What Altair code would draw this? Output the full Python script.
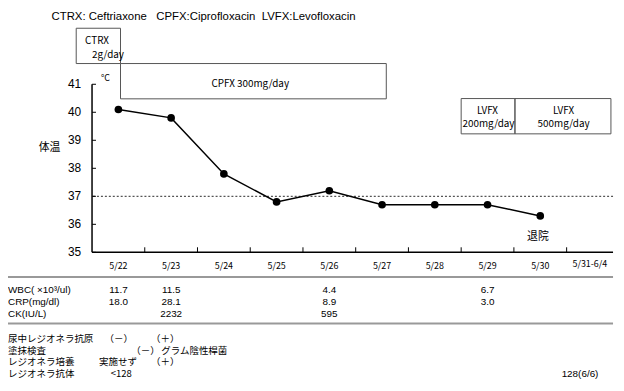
import altair as alt
import pandas as pd

# ---------------- data ----------------
days = ["5/22", "5/23", "5/24", "5/25", "5/26", "5/27", "5/28", "5/29", "5/30"]
temps = [40.1, 39.8, 37.8, 36.8, 37.2, 36.7, 36.7, 36.7, 36.3]
last_period = "5/31-6/4"

wbc_days = ["5/22", "5/23", "5/26", "5/29"]
wbc_vals = ["11.7", "11.5", "4.4", "6.7"]
crp_days = ["5/22", "5/23", "5/26", "5/29"]
crp_vals = ["18.0", "28.1", "8.9", "3.0"]
ck_days = ["5/23", "5/26"]
ck_vals = ["2232", "595"]

drug_names = ["CTRX", "CPFX", "LVFX", "LVFX"]
drug_doses = ["2g/day", "300mg/day", "200mg/day", "500mg/day"]
# treatment spans on the day axis (0 = start of 5/22)
drug_start = [-0.3, 0.54, 7.0, 8.02]
drug_end = [0.54, 5.58, 8.02, 9.84]
drug_top = [43.0, 41.74, 40.49, 40.49]
drug_bottom = [41.74, 40.48, 39.23, 39.23]

y_ticks = [35, 36, 37, 38, 39, 40, 41]
x_ticks = [1, 2, 3, 4, 5, 6, 7, 8, 9]
fever_line = 37

title_text = "CTRX: Ceftriaxone\u00a0\u00a0\u00a0CPFX:Ciprofloxacin\u00a0\u00a0LVFX:Levofloxacin"
lab_labels = ["WBC(\u00a0×10³/ul)", "CRP(mg/dl)", "CK(IU/L)"]
micro_labels = ["尿中レジオネラ抗原", "塗抹検査", "レジオネラ培養", "レジオネラ抗体"]

# ---------------- layout ----------------
W, H = 527, 170
PAD_L, PAD_T = 85, 75
X_MAX = 9.88
XS = alt.Scale(domain=[0, X_MAX], nice=False, zero=False)
YS = alt.Scale(domain=[35, 41], nice=False, zero=False)
JP = "Noto Sans CJK JP"
LAT = "Liberation Sans"


def px_text(df, align="left", font=LAT, size=10, **kw):
    return alt.Chart(df).mark_text(align=align, baseline="middle", font=font, fontSize=size,
                                   color="black", **kw).encode(
        x=alt.X("px:Q", scale=None), y=alt.Y("py:Q", scale=None), text="t:N")


day_pos = {d: i + 0.5 for i, d in enumerate(days)}
temp_df = pd.DataFrame({"day": days, "pos": [day_pos[d] for d in days], "temp": temps})

# axes drawn as marks
y_axis = alt.Chart(pd.DataFrame({"x": [0], "y": [35], "y2": [41]})).mark_rule(color="black", strokeWidth=1.5).encode(
    x=alt.X("x:Q", scale=XS, axis=None), y=alt.Y("y:Q", scale=YS, axis=None), y2="y2:Q")
x_axis = alt.Chart(pd.DataFrame({"x": [0], "x2": [X_MAX], "y": [35]})).mark_rule(color="black", strokeWidth=1.5).encode(
    x=alt.X("x:Q", scale=XS, axis=None), x2="x2:Q", y=alt.Y("y:Q", scale=YS, axis=None))
y_labels = alt.Chart(pd.DataFrame({"y": y_ticks, "t": [str(v) for v in y_ticks]})).mark_text(
    align="right", baseline="middle", font=LAT, fontSize=12, color="black", dx=-11).encode(
    x=alt.value(0), y=alt.Y("y:Q", scale=YS, axis=None), text="t:N")

line = alt.Chart(temp_df).mark_line(color="black", strokeWidth=1.5).encode(
    x=alt.X("pos:Q", scale=XS, axis=None), y=alt.Y("temp:Q", scale=YS, axis=None))
points = alt.Chart(temp_df).mark_point(filled=True, color="black", size=60, opacity=1).encode(
    x=alt.X("pos:Q", scale=XS, axis=None), y=alt.Y("temp:Q", scale=YS, axis=None))
fever = alt.Chart(pd.DataFrame({"y": [fever_line]})).mark_rule(
    color="#555", strokeDash=[2, 2], strokeWidth=1.2
).encode(y=alt.Y("y:Q", scale=YS, axis=None))

xt = alt.Chart(pd.DataFrame({"x": x_ticks, "y": 35, "y2": 35.18})).mark_rule(color="black", strokeWidth=1).encode(
    x=alt.X("x:Q", scale=XS, axis=None), y=alt.Y("y:Q", scale=YS, axis=None), y2="y2:Q")
yt = alt.Chart(pd.DataFrame({"y": y_ticks, "x": 0, "x2": 0.075})).mark_rule(color="black", strokeWidth=1).encode(
    x=alt.X("x:Q", scale=XS, axis=None), x2="x2:Q", y=alt.Y("y:Q", scale=YS, axis=None))

boxes_df = pd.DataFrame({"name": drug_names, "dose": drug_doses, "x": drug_start, "x2": drug_end,
                         "y": drug_top, "y2": drug_bottom})
boxes = alt.Chart(boxes_df).mark_rect(fillOpacity=0, stroke="#555", strokeWidth=1).encode(
    x=alt.X("x:Q", scale=XS, axis=None), x2="x2:Q", y=alt.Y("y:Q", scale=YS, axis=None), y2="y2:Q")

# box texts (pixel positions relative to plot origin)
box_l = px_text(pd.DataFrame({"t": ["CTRX", "2g/day"], "px": [-7, 0], "py": [-44, -30]}), font=JP, size=10)
box_c = px_text(pd.DataFrame({
    "t": ["CPFX 300mg/day", "LVFX", "200mg/day", "LVFX", "500mg/day"],
    "px": [160, 400, 401, 477, 477],
    "py": [0, 27, 40, 27, 40]}), align="center", font=JP, size=10)

title = px_text(pd.DataFrame({"t": [title_text], "px": [-41], "py": [-68]}), size=11.5)
unit = px_text(pd.DataFrame({"t": ["°C"], "px": [9], "py": [-6]}), font=JP, size=9)
jp_notes = px_text(pd.DataFrame({"t": ["体温", "退院"], "px": [-43, 451], "py": [64, 155]}),
                   align="center", font=JP, size=11)

# date labels
date_df = pd.DataFrame({"t": days + [last_period], "pos": [day_pos[d] for d in days] + [9.44],
                        "py": [184] * len(days) + [182]})
dates = alt.Chart(date_df).mark_text(align="center", baseline="middle", font=JP, fontSize=9, color="black").encode(
    x=alt.X("pos:Q", scale=XS, axis=None), y=alt.Y("py:Q", scale=None), text="t:N")

# separators
sep = alt.Chart(pd.DataFrame({"y": [195, 242]})).mark_rule(color="#999", strokeWidth=2).encode(
    x=alt.value(-93), x2=alt.value(W), y=alt.Y("y:Q", scale=None))

# lab table
row_y = [208, 220, 232]
lab_rows = []
for r, (ds, vs) in enumerate([(wbc_days, wbc_vals), (crp_days, crp_vals), (ck_days, ck_vals)]):
    for d, v in zip(ds, vs):
        lab_rows.append({"t": v, "pos": day_pos[d], "py": row_y[r]})
lab_vals = alt.Chart(pd.DataFrame(lab_rows)).mark_text(align="center", baseline="middle", font=LAT,
                                                        fontSize=10, color="black").encode(
    x=alt.X("pos:Q", scale=XS, axis=None), y=alt.Y("py:Q", scale=None), text="t:N")
lab_lab = px_text(pd.DataFrame({"t": lab_labels, "px": -85, "py": row_y}), size=10)

# microbiology notes
micro_y = [258, 269.5, 281, 293]
micro_lab = px_text(pd.DataFrame({"t": micro_labels, "px": -85, "py": micro_y}), font=JP, size=9.6)
micro_c = px_text(pd.DataFrame({
    "t": ["（－）", "（＋）", "（－）", "（＋）"],
    "px": [27, 74, 54, 74],
    "py": [258, 258, 269.5, 281]}), align="center", font=JP, size=9.6)
micro_l = px_text(pd.DataFrame({
    "t": ["グラム陰性桿菌", "実施せず", "<128"],
    "px": [70, 7, 19],
    "py": [269.5, 281, 293]}), font=JP, size=9.6)
micro_r = px_text(pd.DataFrame({"t": ["128(6/6)"], "px": [475], "py": [293]}), size=10)

chart = alt.layer(
    boxes, fever, x_axis, y_axis, y_labels, line, points, xt, yt, box_l, box_c, title, unit, jp_notes,
    dates, sep, lab_vals, lab_lab, micro_lab, micro_c, micro_l, micro_r
).properties(
    width=W, height=H,
    autosize=alt.AutoSizeParams(type="none"),
    padding={"left": PAD_L, "top": PAD_T, "right": 3, "bottom": 128},
    background="white",
).configure_view(strokeWidth=0)

chart.save("out.html", embed_options={"renderer": "svg", "actions": False})
